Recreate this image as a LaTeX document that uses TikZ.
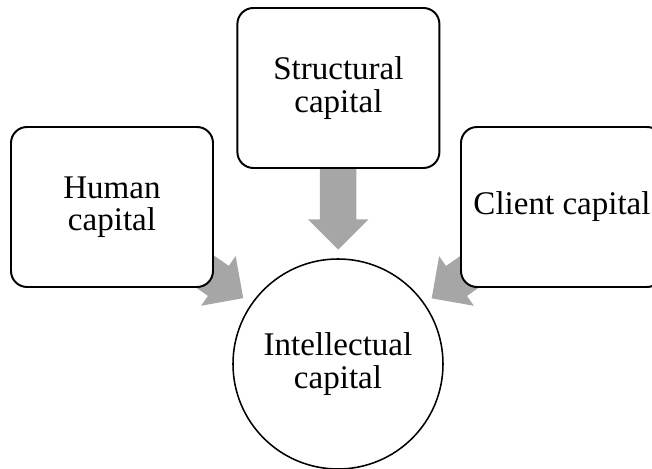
\documentclass[tikz,border=0pt]{standalone}
\usepackage{fontspec}
\setmainfont{Liberation Serif}
\usetikzlibrary{shapes.arrows,calc}
\definecolor{arrowgray}{RGB}{166,166,166}
\tikzset{
  capbox/.style={draw=black, line width=1.4pt, rounded corners=0.4cm, fill=white,
    minimum width=5.05cm, minimum height=4cm, align=center,
    font=\fontsize{23.5}{23}\selectfont},
  capcircle/.style={draw=black, line width=1.1pt, circle, fill=white,
    minimum size=5.25cm, align=center, font=\fontsize{23.5}{23}\selectfont},
  flowarrow/.style={single arrow, fill=arrowgray, draw=none,
    inner xsep=0pt, inner ysep=0.45cm, single arrow head extend=0.3cm,
    minimum height=2.3cm, anchor=tip}
}

\begin{document}
\begin{tikzpicture}
  \useasboundingbox (0,0) rectangle (16.3,11.725);
  % centres
  \coordinate (hc) at (2.8,6.55);
  \coordinate (sc) at (8.46,9.525);
  \coordinate (cc) at (14.05,6.55);
  \coordinate (ic) at (8.45,2.625);
  % arrows (behind the boxes)
  \node[flowarrow, rotate=-34.8] (ha) at ($(ic)!2.875cm!(hc)$) {};
  \node[flowarrow, rotate=-90] (sa) at ($(ic)!2.85cm!(sc)$) {};
  \node[flowarrow, rotate=-145] (ca) at ($(ic)!2.85cm!(cc)$) {};
  % boxes
  \node[capbox] (human) at (hc) {Human\\capital};
  \node[capbox] (struct) at (sc) {Structural\\capital};
  \node[capbox] (client) at (cc) {Client capital};
  \node[capcircle] (intel) at (ic) {Intellectual\\capital};
\end{tikzpicture}
\end{document}
